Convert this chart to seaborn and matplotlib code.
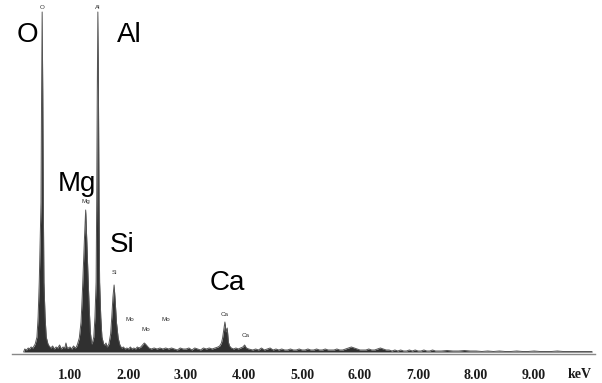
import numpy as np
import matplotlib
matplotlib.use("Agg")
import matplotlib.pyplot as plt
import seaborn as sns

# ---- data: EDS spectrum (energy in keV, counts in arbitrary units)
energy = [
    0.20, 0.22, 0.25, 0.28, 0.30, 0.33, 0.36, 0.38,
    0.40, 0.43, 0.45, 0.47, 0.50, 0.51, 0.52, 0.53, 0.54, 0.55, 0.57, 0.59, 0.62,
    0.64, 0.67, 0.70, 0.73, 0.76, 0.79, 0.82, 0.85, 0.88, 0.91, 0.93, 0.95, 0.97, 1.00,
    1.03, 1.06, 1.09, 1.11,
    1.13, 1.16, 1.19, 1.21, 1.23, 1.25, 1.27, 1.29, 1.31, 1.33, 1.35, 1.37,
    1.38, 1.41, 1.43, 1.45, 1.46, 1.47, 1.48, 1.49, 1.50, 1.51, 1.53, 1.55, 1.58,
    1.60, 1.62, 1.64,
    1.67, 1.70, 1.72, 1.74, 1.76, 1.78, 1.80, 1.83, 1.86,
    1.89, 1.92, 1.95, 1.98, 2.01, 2.04, 2.07, 2.10, 2.13, 2.16, 2.19, 2.22, 2.25, 2.28,
    2.30, 2.33, 2.36, 2.40, 2.45, 2.50, 2.55, 2.60, 2.65, 2.70, 2.75, 2.80, 2.85, 2.90,
    2.95, 3.00, 3.05, 3.10, 3.15, 3.20, 3.25, 3.30, 3.35, 3.40, 3.45, 3.50, 3.55,
    3.58, 3.61, 3.63, 3.65, 3.67, 3.69, 3.71, 3.73, 3.75, 3.78, 3.82, 3.86, 3.90, 3.94,
    3.98, 4.01, 4.04, 4.08,
    4.15, 4.20, 4.25, 4.30, 4.35, 4.40, 4.45, 4.50, 4.55, 4.60, 4.65, 4.70, 4.75, 4.80,
    4.85, 4.90, 4.95, 5.00, 5.05, 5.10, 5.15, 5.20, 5.25, 5.30, 5.35, 5.40, 5.45, 5.50,
    5.55, 5.60, 5.65, 5.70, 5.75, 5.80, 5.85, 5.90, 5.95, 6.00, 6.05, 6.10, 6.15, 6.20,
    6.25, 6.30, 6.35, 6.40, 6.45, 6.50, 6.55, 6.60, 6.65, 6.70, 6.75, 6.80, 6.85, 6.90,
    6.95, 7.00, 7.05, 7.10, 7.15, 7.20, 7.25, 7.30, 7.40, 7.50, 7.60, 7.70, 7.80, 7.90,
    8.00, 8.10, 8.20, 8.30, 8.40, 8.50, 8.60, 8.70, 8.80, 8.90, 9.00, 9.10, 9.20, 9.30,
    9.40, 9.50, 9.60, 9.70, 9.80, 9.90, 10.00,
]
counts = [
    0, 3, 2, 4, 3, 5, 4, 6,
    8, 15, 35, 70, 150, 260, 340, 260, 150, 70, 35, 15, 8,
    6, 4, 6, 3, 5, 4, 7, 3, 5, 4, 9, 4, 4, 5,
    3, 6, 4, 5,
    8, 14, 30, 55, 85, 115, 142, 110, 75, 45, 20, 10,
    8, 15, 35, 70, 150, 260, 340, 260, 150, 70, 35, 15, 8,
    7, 9, 5,
    8, 18, 35, 55, 67, 50, 30, 14, 7,
    4, 5, 3, 4, 3, 5, 3, 4, 3, 5, 4, 5, 7, 9,
    8, 6, 4, 3, 4, 3, 4, 3, 4, 3, 4, 3, 2, 4,
    3, 3, 4, 2, 4, 3, 2, 4, 3, 4, 3, 4, 5,
    6, 9, 14, 22, 30, 20, 24, 10, 6, 4, 3, 4, 3, 4,
    5, 7, 4, 3,
    2, 3, 2, 4, 2, 3, 4, 2, 3, 2, 3, 2, 2, 3,
    2, 2, 3, 2, 2, 3, 2, 2, 3, 2, 2, 3, 2, 2,
    2, 3, 2, 2, 3, 4, 5, 4, 3, 2, 2, 2, 3, 2,
    2, 3, 4, 3, 2, 2, 1, 2, 1, 2, 1, 1, 2, 1,
    2, 1, 1, 2, 1, 1, 2, 1, 1, 1.5, 1, 1, 1.5, 1,
    1, 0.5, 1, 0.5, 1, 0.5, 0.5, 1, 0.5, 0.5, 1, 0.5, 0.5, 0.5,
    1, 0.5, 0.5, 0.5, 0.5, 0.5, 0.5,
]

# big element labels (text, energy, height)
big_labels = ["O", "Al", "Mg", "Si", "Ca"]
big_label_e = [0.26, 2.02, 1.12, 1.90, 3.72]
big_label_h = [317, 317, 168, 107, 69]

# small peak markers
small_labels = ["O", "Al", "Mg", "Si", "Mo", "Mo", "Mo", "Ca", "Ca"]
small_label_e = [0.52, 1.48, 1.27, 1.76, 2.04, 2.31, 2.66, 3.67, 4.03]
small_label_h = [340, 340, 146, 75, 28, 18, 28, 33, 12]

ticks = [1, 2, 3, 4, 5, 6, 7, 8, 9]
tick_labels = [f"{t:.2f}" for t in ticks]

# ================================================================
# Plot
# ================================================================
sns.set_style("white")
plt.rcParams["font.family"] = ["Liberation Sans", "DejaVu Sans"]

fig = plt.figure(figsize=(6.02, 3.83), dpi=100)
ax = fig.add_axes([12 / 602, 29 / 383, 583 / 602, 354 / 383])

ax.fill_between(energy, 0, counts, color="#303030", lw=0)
sns.lineplot(x=energy, y=counts, ax=ax, color="#555555", lw=0.7, sort=False)

for lab, e, h in zip(big_labels, big_label_e, big_label_h):
    ax.text(e, h, lab, fontsize=20, ha="center", va="center", color="black")

for lab, e, h in zip(small_labels, small_label_e, small_label_h):
    ax.text(e, h + 2, lab, fontsize=4.5, ha="center", va="bottom", color="#333333")

ax.set_xlim(0, 10.05)
ax.set_ylim(-2, 352)
ax.set_xticks(ticks)
ax.set_xticklabels(tick_labels, fontfamily="Liberation Serif", fontweight="bold",
                   fontsize=10, color="#1a1a1a")
ax.set_yticks([])
ax.tick_params(axis="x", direction="inout", length=5, width=0.8, color="#777777", pad=8)

sns.despine(ax=ax, left=True, top=True, right=True)
ax.spines["bottom"].set_color("#888888")
ax.spines["bottom"].set_linewidth(1.0)

fig.text(580 / 602, 1 - 375 / 383, "keV", fontfamily="Liberation Serif", fontweight="bold",
         fontsize=10, ha="center", va="center", color="#1a1a1a")

fig.savefig("out.png", dpi=100)
